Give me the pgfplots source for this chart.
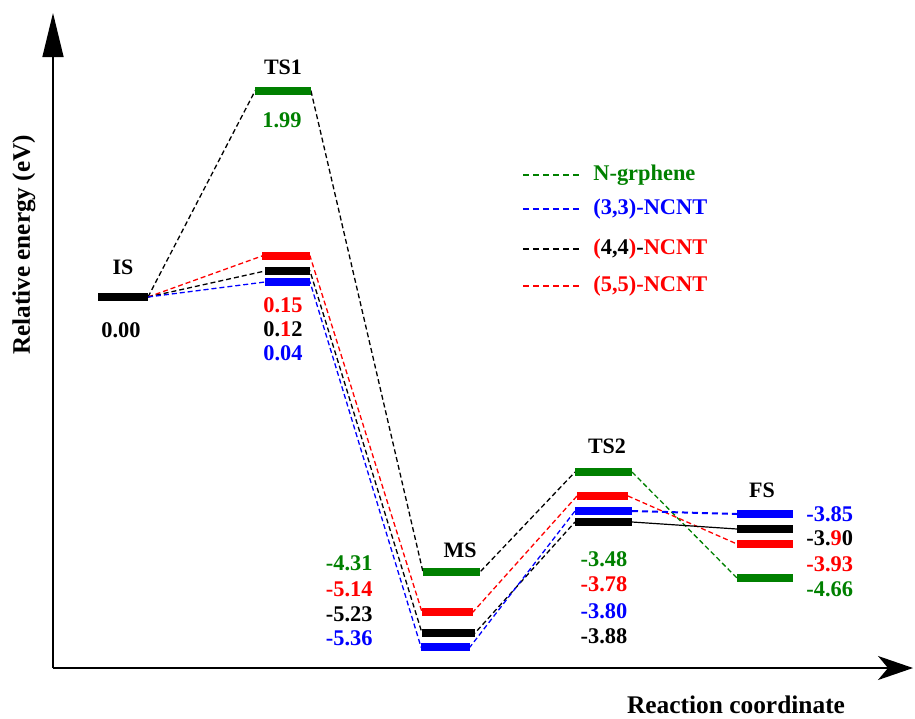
\documentclass[border=0pt]{standalone}
\usepackage{fontspec}
\setmainfont{LiberationSerif}[Extension=.ttf, UprightFont=*-Regular, BoldFont=*-Bold, ItalicFont=*-Italic, BoldItalicFont=*-BoldItalic]
\usepackage{pgfplots}
\pgfplotsset{compat=1.18}
\usetikzlibrary{arrows.meta}
\definecolor{cgreen}{RGB}{0,128,0}
\definecolor{cblue}{RGB}{0,0,255}
\definecolor{cred}{RGB}{255,0,0}
\tikzset{
  lvl/.style={line width=3.6pt, line cap=butt},
  con/.style={line width=0.65pt, dash pattern=on 2.5pt off 1.5pt},
  lab/.style={font=\fontsize{11.2}{12}\selectfont\bfseries, inner sep=0pt},
  st/.style={font=\fontsize{11}{12}\selectfont\bfseries, inner sep=0pt},
}
\begin{document}
\begin{tikzpicture}
\useasboundingbox (0,0) rectangle (457.5pt,359pt);
\begin{axis}[
  scale only axis, width=457.5pt, height=359pt,
  xmin=0, xmax=915, ymin=0, ymax=718, y dir=reverse,
  hide axis, clip=false,
  unbounded coords=jump,
]
% axes (arrows)
\draw[line width=0.7pt, -{Triangle[length=22pt, width=10.5pt]}] (axis cs:53,668) -- (axis cs:53,13);
\draw[line width=0.7pt, -{Stealth[length=17.5pt, width=12pt, inset=5pt]}] (axis cs:53,668) -- (axis cs:913,668);

% ---- connectors ----
% N-graphene
\addplot[con, black] coordinates {(148,297) (255,91) (311,91) (423,572) (480,572) (575,472)};
\addplot[con, cgreen] coordinates {(632,472) (737,578)};
% (5,5)-NCNT
\addplot[con, cred] coordinates {(148,297) (262,256) (310,256) (422,612) (473,612) (577,496) (628,496) (737,544)};
% (4,4)-NCNT
\addplot[con, black] coordinates {(148,297) (265,271) (310,271) (422,633) (475,633) (575,522)};
\addplot[black, line width=0.6pt] coordinates {(632,522) (737,529)};
% (3,3)-NCNT
\addplot[con, cblue] coordinates {(148,297) (265,282) (310,282) (421,647) (470,647) (575,511)};
\addplot[cblue, line width=1pt, dash pattern=on 3pt off 2pt] coordinates {(632,511) (737,514)};

% ---- levels ----
\addplot[lvl, black] coordinates {(98,297) (148,297)};
\addplot[lvl, cgreen] coordinates {(255,91) (311,91) (311,nan) (423,572) (480,572) (480,nan) (575,472) (632,472) (632,nan) (737,578) (793,578)};
\addplot[lvl, cred] coordinates {(262,256) (310,256) (310,nan) (422,612) (473,612) (473,nan) (577,496) (628,496) (628,nan) (737,544) (793,544)};
\addplot[lvl, black] coordinates {(265,271) (310,271) (310,nan) (422,633) (475,633) (475,nan) (575,522) (632,522) (632,nan) (737,529) (793,529)};
\addplot[lvl, cblue] coordinates {(265,282) (310,282) (310,nan) (421,647) (470,647) (470,nan) (575,511) (632,511) (632,nan) (737,514) (793,514)};

% ---- state labels ----
\node[st] at (axis cs:123,267) {IS};
\node[st] at (axis cs:283,67) {TS1};
\node[st] at (axis cs:460,550) {MS};
\node[st] at (axis cs:607,446) {TS2};
\node[st] at (axis cs:762,490) {FS};

% ---- energy values ----
\node[lab, black] at (axis cs:121,330) {0.00};
\node[lab, cgreen] at (axis cs:282,120) {1.99};
\node[lab, cred] at (axis cs:283,305) {0.15};
\node[lab, black] at (axis cs:283,329) {0.\textcolor{cred}{1}2};
\node[lab, cblue] at (axis cs:283,353) {0.04};

\node[lab, cgreen, anchor=east] at (axis cs:373,563) {-4.31};
\node[lab, cred, anchor=east] at (axis cs:373,589) {-5.14};
\node[lab, black, anchor=east] at (axis cs:373,614) {-5.23};
\node[lab, cblue, anchor=east] at (axis cs:373,638) {-5.36};

\node[lab, cgreen] at (axis cs:604,559) {-3.48};
\node[lab, cred] at (axis cs:604,584) {-3.78};
\node[lab, cblue] at (axis cs:604,611) {-3.80};
\node[lab, black] at (axis cs:604,636) {-3.88};

\node[lab, cblue, anchor=west] at (axis cs:806,514) {-3.85};
\node[lab, black, anchor=west] at (axis cs:806,538) {-3.\textcolor{cred}{9}0};
\node[lab, cred, anchor=west] at (axis cs:806,564) {-3.93};
\node[lab, cgreen, anchor=west] at (axis cs:806,589) {-4.66};

% ---- legend ----
\draw[cgreen, line width=0.7pt, dash pattern=on 3pt off 2pt] (axis cs:523,175) -- (axis cs:580,175);
\draw[cblue, line width=0.7pt, dash pattern=on 3pt off 2pt] (axis cs:523,209) -- (axis cs:580,209);
\draw[black, line width=0.7pt, dash pattern=on 3pt off 2pt] (axis cs:523,249) -- (axis cs:580,249);
\draw[cred, line width=0.7pt, dash pattern=on 3pt off 2pt] (axis cs:523,286) -- (axis cs:580,286);
\node[lab, cgreen, anchor=west] at (axis cs:593,175) {N-grphene};
\node[lab, cblue, anchor=west] at (axis cs:593,209) {(3,3)-NCNT};
\node[lab, cred, anchor=west] at (axis cs:593,249) {(\textcolor{black}{4,4})\textcolor{black}{-}NCNT};
\node[lab, cred, anchor=west] at (axis cs:593,286) {(5,5)-NCNT};

% ---- axis titles ----
\node[rotate=90, font=\fontsize{12.6}{13}\selectfont\bfseries] at (axis cs:24,245) {Relative energy (eV)};
\node[font=\fontsize{12.7}{13}\selectfont\bfseries] at (axis cs:736,705) {Reaction coordinate};
\end{axis}
\end{tikzpicture}
\end{document}
